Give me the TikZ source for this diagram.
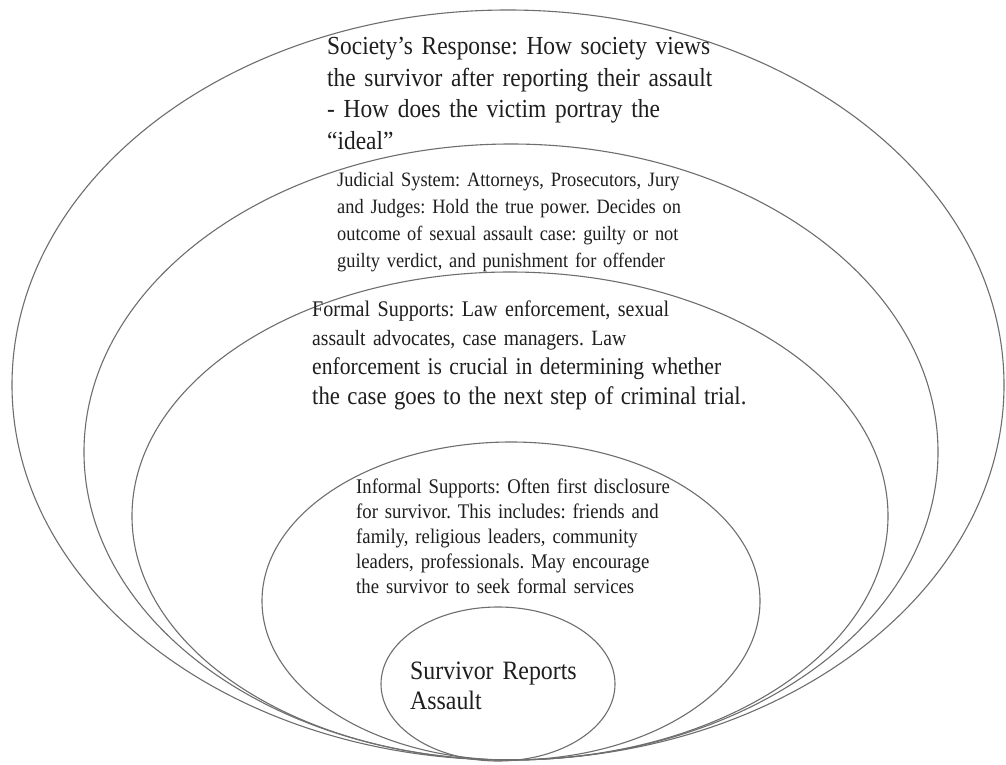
\documentclass[tikz,border=0pt]{standalone}
\usepackage{fontspec}
\setmainfont{Liberation Serif}[FakeStretch=0.9]
\frenchspacing
\usetikzlibrary{shapes.geometric}
\definecolor{ringgray}{RGB}{110,110,110}
\definecolor{txt}{RGB}{30,30,30}
\begin{document}
\begin{tikzpicture}[x=1pt,y=-1pt,
  ring/.style={draw=ringgray, line width=1.1pt, ellipse, inner sep=0pt},
  lbl/.style={anchor=base west, align=left, inner sep=0pt, text=txt, text width=#1}]
\useasboundingbox[fill=white] (0,0) rectangle (1006,765);
% rings
\node[ring, minimum width=992pt, minimum height=750pt] (society) at (508,385) {};
\node[ring, minimum width=854pt, minimum height=616pt] (judicial) at (511,452) {};
\node[ring, minimum width=756pt, minimum height=488pt] (formal) at (510,516) {};
\node[ring, minimum width=498pt, minimum height=318pt] (informal) at (511,601) {};
\node[ring, minimum width=234pt, minimum height=154pt] (survivor) at (498,684) {};
% texts
\node[lbl=480pt, font=\fontsize{26}{31.5}\selectfont] (societytxt) at (327,55)
  {Society’s Response: How society views\\
   the survivor after reporting their assault\\
   - How does the victim portray the\\
   “ideal”};
\node[lbl=440pt, font=\fontsize{20.4}{27}\selectfont] (judicialtxt) at (337,186)
  {Judicial System: Attorneys, Prosecutors, Jury\\
   and Judges: Hold the true power. Decides on\\
   outcome of sexual assault case: guilty or not\\
   guilty verdict, and punishment for offender};
\node[lbl=500pt, font=\fontsize{22.3}{29}\selectfont] (formaltxt) at (312,316)
  {Formal Supports: Law enforcement, sexual\\
   {\fontsize{21.8}{29}\selectfont assault advocates, case managers. Law}\\
   {\fontsize{24}{29}\selectfont enforcement is crucial in determining whether}\\[1pt]
   {\fontsize{25.3}{30}\selectfont the case goes to the next step of criminal trial.}};
\node[lbl=380pt, font=\fontsize{20.8}{25}\selectfont] (informaltxt) at (356,493)
  {Informal Supports: Often first disclosure\\
   for survivor. This includes: friends and\\
   family, religious leaders, community\\
   leaders, professionals. May encourage\\
   the survivor to seek formal services};
\node[lbl=220pt, font=\fontsize{26.5}{30}\selectfont] (survivortxt) at (410,679)
  {Survivor Reports\\
   Assault};
\end{tikzpicture}
\end{document}
